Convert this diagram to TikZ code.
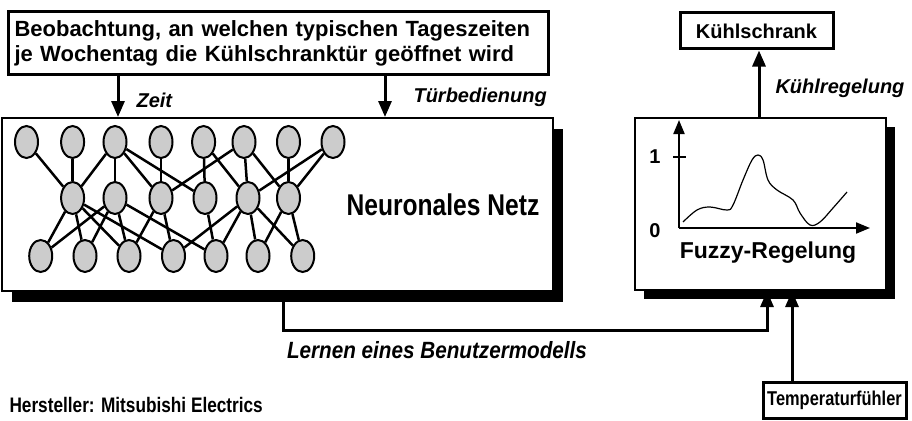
\documentclass[tikz,border=0pt]{standalone}
\usepackage{fontspec}
\setmainfont{Liberation Sans}
\newfontfamily\schmal[FakeStretch=0.82]{Liberation Sans}
\newfontfamily\halbschmal[FakeStretch=0.88]{Liberation Sans}
\usetikzlibrary{arrows.meta,shapes.geometric,shadows}
\tikzset{
  kasten/.style={draw,line width=3pt,fill=white,inner sep=0pt},
  neuron/.style={ellipse,draw,line width=2pt,fill=black!20,minimum width=23pt,minimum height=32pt,inner sep=0pt},
  verbindung/.style={line width=2.5pt},
  pfeil/.style={line width=3pt,-{Triangle[length=16pt,width=13pt]}},
  achse/.style={line width=2pt,-{Triangle[length=14pt,width=11pt]}},
  beschr/.style={font=\fontsize{20}{24}\selectfont\bfseries\itshape},
  fett/.style={font=\fontsize{20}{24}\selectfont\bfseries},
}
\begin{document}
\begin{tikzpicture}[x=1pt,y=-1pt]
\useasboundingbox (0,0) rectangle (912,420);
% Eingabe
\node[kasten,text width=527pt,inner xsep=6.5pt,inner ysep=6pt,align=left,minimum height=62pt,font=\fontsize{22}{25}\selectfont\bfseries] (beob) at (278,43)
  {Beobachtung, an welchen typischen Tageszeiten\\je Wochentag die Kühlschranktür geöffnet wird};
% Netz
\node[kasten,line width=2pt,minimum width=551pt,minimum height=173pt,
  drop shadow={shadow xshift=10pt,shadow yshift=-11pt,fill=black,opacity=1}] (netz) at (277.5,204.5) {};
\foreach \x [count=\i] in {26.5,72.6,115,161,203.6,244,288.5,333}
  \node[neuron] (t\i) at (\x,142) {};
\foreach \x [count=\i] in {72.6,115,161,205,248,288.5}
  \node[neuron] (m\i) at (\x,198) {};
\foreach \x [count=\i] in {40.7,85,129,173.5,216,258,302.7}
  \node[neuron] (b\i) at (\x,256) {};
\foreach \a/\b in {t1/m1,t2/m1,t3/m1,t3/m2,t3/m3,t3/m4,t4/m3,t6/m3,t5/m4,t5/m5,t6/m5,t6/m6,t7/m6,t8/m5,t8/m6,
  m1/b1,m1/b2,m1/b3,m1/b4,m2/b1,m2/b2,m2/b3,m2/b5,m3/b3,m3/b4,m4/b5,m5/b4,m5/b5,m5/b6,m5/b7,m6/b6,m6/b7}
  \draw[verbindung] (\a) -- (\b);
\node[font=\schmal\fontsize{30}{30}\selectfont\bfseries] (nn) at (443,205) {Neuronales Netz};
% Fuzzy
\node[kasten,line width=2pt,minimum width=251pt,minimum height=172pt,
  drop shadow={shadow xshift=9pt,shadow yshift=-9pt,fill=black,opacity=1}] (fuzzy) at (760.5,204) {};
\draw[achse] (679,228) -- (679,120);
\draw[achse] (679,228) -- (870,228);
\draw[line width=2pt] (673,157) -- (686,157);
\node[fett] (eins) at (655,157) {1};
\node[fett] (null) at (655,231) {0};
\draw[line width=1.2pt] plot[smooth,tension=0.6] coordinates {(683,222) (697,210) (710,207) (727,210) (733,205) (743,180) (752,160) (758,155) (763,160) (768,180) (777,190) (793,200) (800,213) (810,225) (820,222) (833,208) (847,192)};
\node[font=\fontsize{23}{26}\selectfont\bfseries] (fuzzytext) at (768,253) {Fuzzy-Regelung};
% Kuehlschrank, Fuehler
\node[kasten,fett,minimum width=153pt,minimum height=36pt] (schrank) at (756.5,31) {Kühlschrank};
\node[kasten,minimum width=143pt,minimum height=36pt,font=\schmal\fontsize{20}{24}\selectfont\bfseries] (temp) at (834.5,400) {Temperaturfühler};
\node[anchor=west,font=\schmal\fontsize{21}{24}\selectfont\bfseries] (herst) at (6,405) {Hersteller: Mitsubishi Electrics};
% Pfeile
\coordinate (zeitx) at (118,0);
\coordinate (tuerx) at (385,0);
\coordinate (kuehlx) at (759,0);
\coordinate (tempx) at (792,0);
\coordinate (lernab) at (283,0);
\coordinate (lernx) at (767,330);
\draw[pfeil] (beob.south -| zeitx) -- (netz.north -| zeitx);
\draw[pfeil] (beob.south -| tuerx) -- (netz.north -| tuerx);
\draw[pfeil] (fuzzy.north -| kuehlx) -- (schrank.south -| kuehlx);
\draw[pfeil] (temp.north -| tempx) -- (fuzzy.south -| tempx);
\draw[pfeil] (netz.south -| lernab) |- (lernx) -- (fuzzy.south -| lernx);
\node[beschr,anchor=west] (zeit) at (133,100) {Zeit};
\node[beschr,anchor=west] (tuer) at (410,97) {Türbedienung};
\node[beschr,anchor=west] (kuehl) at (772,88) {Kühlregelung};
\node[font=\halbschmal\fontsize{23.5}{26}\selectfont\bfseries\itshape] (lernen) at (437,350) {Lernen eines Benutzermodells};
\end{tikzpicture}
\end{document}
